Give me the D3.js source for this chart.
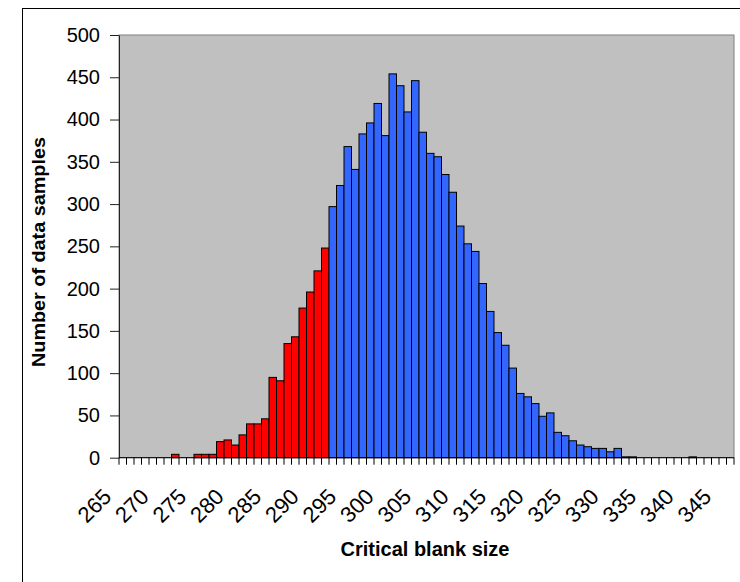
<!DOCTYPE html>
<html>
<head>
<meta charset="utf-8">
<script src="https://cdn.jsdelivr.net/npm/d3@7"></script>
<style>
  body { margin: 0; background: #fff; }
  text { font-family: Arial, "Liberation Sans", sans-serif; }
</style>
</head>
<body>
<div id="chart"></div>
<script>
// one bin per unit of blank size
const categories = [
  265, 266, 267, 268, 269, 270, 271, 272, 273, 274,
  275, 276, 277, 278, 279, 280, 281, 282, 283, 284,
  285, 286, 287, 288, 289, 290, 291, 292, 293, 294,
  295, 296, 297, 298, 299, 300, 301, 302, 303, 304,
  305, 306, 307, 308, 309, 310, 311, 312, 313, 314,
  315, 316, 317, 318, 319, 320, 321, 322, 323, 324,
  325, 326, 327, 328, 329, 330, 331, 332, 333, 334,
  335, 336, 337, 338, 339, 340, 341, 342, 343, 344,
  345, 346
]
const counts = [
  0, 0, 0, 0, 0, 0, 0, 4, 0, 0,
  4, 4, 4, 19, 21, 15, 27, 40, 40, 46,
  95, 91, 135, 143, 177, 196, 221, 248, 297, 322,
  368, 341, 383, 396, 419, 381, 454, 440, 409, 446,
  385, 360, 356, 335, 314, 274, 253, 244, 206, 173,
  148, 133, 106, 76, 72, 64, 49, 53, 30, 26,
  20, 15, 13, 11, 11, 7, 11, 1, 1, 0,
  0, 0, 0, 0, 0, 0, 1, 0, 0, 0,
  0, 0
]
// bins up to this size are drawn red, the rest blue
const redLimit = 292
const yTicks = [0, 50, 100, 150, 200, 250, 300, 350, 400, 450, 500]
const xLabels = [265, 270, 275, 280, 285, 290, 295, 300, 305, 310, 315, 320, 325, 330, 335, 340, 345]

const width = 740
const height = 582
const plot = { left: 119, right: 734, top: 35, bottom: 457.7 }

const svg = d3
  .select('#chart')
  .append('svg')
  .attr('width', width)
  .attr('height', height)
  .attr('viewBox', [0, 0, width, height])

// outer chart frame (runs past the window on right and bottom)
svg
  .append('rect')
  .attr('x', 22.5)
  .attr('y', 8.5)
  .attr('width', 760)
  .attr('height', 600)
  .attr('fill', '#fff')
  .attr('stroke', '#000')

const x = d3.scaleBand().domain(categories).range([plot.left, plot.right]).padding(0)
const y = d3.scaleLinear().domain([0, 500]).range([plot.bottom, plot.top])

svg
  .append('rect')
  .attr('x', plot.left)
  .attr('y', plot.top)
  .attr('width', plot.right - plot.left)
  .attr('height', plot.bottom - plot.top)
  .attr('fill', '#c0c0c0')
  .attr('stroke', '#808080')

const data = categories.map((c, i) => ({ c, n: counts[i] })).filter((d) => d.n > 0)

svg
  .append('g')
  .selectAll('rect')
  .data(data)
  .join('rect')
  .attr('x', (d) => x(d.c))
  .attr('y', (d) => y(d.n))
  .attr('width', x.bandwidth())
  .attr('height', (d) => y(0) - y(d.n))
  .attr('fill', (d) => (d.c <= redLimit ? '#ff0000' : '#3366ff'))
  .attr('stroke', '#000')
  .attr('stroke-width', 1)

// y axis
const yAxis = svg
  .append('g')
  .attr('transform', `translate(${plot.left}, 0)`)
  .call(d3.axisLeft(y).tickValues(yTicks).tickSize(9).tickSizeOuter(0).tickPadding(10))
yAxis.select('.domain').attr('stroke', '#222')
yAxis.selectAll('.tick line').attr('stroke', '#222')
yAxis.selectAll('.tick text').attr('font-size', 20).attr('fill', '#000')

// x axis: marks between bins, labels every fifth bin
const xAxis = svg.append('g')
xAxis
  .append('line')
  .attr('x1', plot.left)
  .attr('x2', plot.right)
  .attr('y1', plot.bottom)
  .attr('y2', plot.bottom)
  .attr('stroke', '#000')
xAxis
  .selectAll('.xtick')
  .data(categories.concat([null]))
  .join('line')
  .attr('class', 'xtick')
  .attr('x1', (d) => (d === null ? plot.right : x(d)))
  .attr('x2', (d) => (d === null ? plot.right : x(d)))
  .attr('y1', plot.bottom)
  .attr('y2', plot.bottom + 7)
  .attr('stroke', '#000')
xAxis
  .selectAll('.xlabel')
  .data(xLabels)
  .join('text')
  .attr('class', 'xlabel')
  .attr('transform', (d) => `translate(${x(d) + x.bandwidth() / 2 - 10}, 498) rotate(-45)`)
  .attr('text-anchor', 'end')
  .attr('font-size', 22)
  .text((d) => d)

svg
  .append('text')
  .attr('x', 425)
  .attr('y', 556)
  .attr('text-anchor', 'middle')
  .attr('font-size', 20)
  .attr('font-weight', 'bold')
  .text('Critical blank size')

svg
  .append('text')
  .attr('transform', 'translate(45, 252) rotate(-90)')
  .attr('text-anchor', 'middle')
  .attr('font-size', 18)
  .attr('font-weight', 'bold')
  .attr('textLength', 230)
  .attr('lengthAdjust', 'spacingAndGlyphs')
  .text('Number of data samples')
</script>
</body>
</html>
